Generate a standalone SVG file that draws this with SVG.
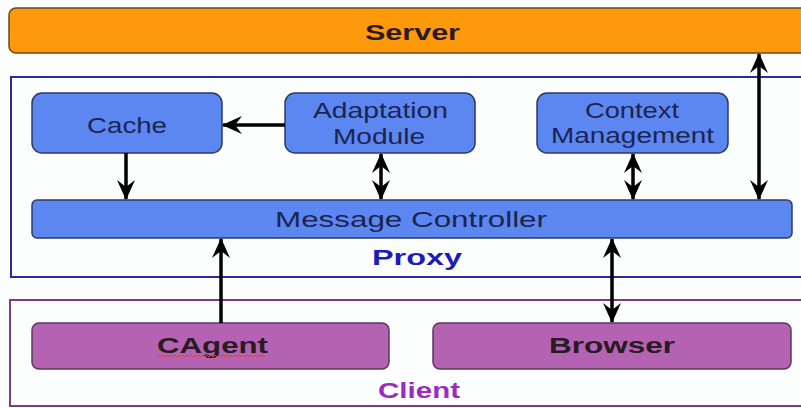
<svg xmlns="http://www.w3.org/2000/svg" width="801" height="408" viewBox="0 0 801 408">
  <defs>
    <marker id="head" viewBox="0 0 20 20" refX="19" refY="10" markerWidth="20" markerHeight="20" markerUnits="userSpaceOnUse" orient="auto-start-reverse">
      <path d="M0,1 L20,10 L0,19 L7,10 z" fill="#000"/>
    </marker>
    <style>
      text { font-family: "Liberation Sans", Arial, sans-serif; text-anchor: middle; }
      .server { fill: #fd990a; stroke: #6b4a1c; stroke-width: 1.5; }
      .frame-proxy { fill: none; stroke: #2a2aa0; stroke-width: 2; }
      .frame-client { fill: none; stroke: #7e3a82; stroke-width: 2; }
      .mod { fill: #5c86f0; stroke: #2c3a66; stroke-width: 1.5; }
      .cli { fill: #b462b2; stroke: #5a3a5c; stroke-width: 1.5; }
      .mt { font-size: 22px; fill: #1c2450; }
      .bt { font-size: 22px; font-weight: bold; fill: #2a1a22; }
      .lbl-proxy { font-size: 22px; font-weight: bold; fill: #1c1cb8; }
      .lbl-client { font-size: 22px; font-weight: bold; fill: #9a2cc2; }
      .link { stroke: #000; stroke-width: 3.5; fill: none; }
      .one { marker-end: url(#head); }
      .two { marker-start: url(#head); marker-end: url(#head); }
    </style>
  </defs>

  <rect width="801" height="408" fill="#fcfdfd"/>

  <!-- server tier -->
  <g id="server">
    <rect class="server" x="9" y="8" width="800" height="45" rx="7"/>
    <text class="bt" x="412.5" y="40" font-size="24" textLength="95" lengthAdjust="spacingAndGlyphs">Server</text>
  </g>

  <!-- proxy tier -->
  <g id="proxy">
    <rect class="frame-proxy" x="11" y="77" width="800" height="200"/>
    <text class="lbl-proxy" x="417" y="265" textLength="90" lengthAdjust="spacingAndGlyphs">Proxy</text>
  </g>

  <g id="cache">
    <rect class="mod" x="32" y="93" width="190" height="60" rx="10"/>
    <text class="mt" x="127" y="133" textLength="80" lengthAdjust="spacingAndGlyphs">Cache</text>
  </g>

  <g id="adaptation">
    <rect class="mod" x="285" y="93" width="190" height="60" rx="10"/>
    <text class="mt" x="380.5" y="118" textLength="135" lengthAdjust="spacingAndGlyphs">Adaptation</text>
    <text class="mt" x="379" y="144" textLength="92" lengthAdjust="spacingAndGlyphs">Module</text>
  </g>

  <g id="context">
    <rect class="mod" x="537" y="93" width="191" height="60" rx="10"/>
    <text class="mt" x="632" y="118" textLength="94" lengthAdjust="spacingAndGlyphs">Context</text>
    <text class="mt" x="632.5" y="143" textLength="163" lengthAdjust="spacingAndGlyphs">Management</text>
  </g>

  <g id="message-controller">
    <rect class="mod" x="32" y="200" width="760" height="38" rx="5"/>
    <text class="mt" x="411" y="227" font-size="24" textLength="272" lengthAdjust="spacingAndGlyphs">Message Controller</text>
  </g>

  <!-- client tier -->
  <g id="client">
    <rect class="frame-client" x="10" y="300" width="800" height="106"/>
    <text class="lbl-client" x="419" y="398" textLength="82" lengthAdjust="spacingAndGlyphs">Client</text>
  </g>

  <g id="cagent">
    <rect class="cli" x="32" y="323" width="357" height="46" rx="7"/>
    <text class="bt" x="212.5" y="353" textLength="111" lengthAdjust="spacingAndGlyphs">CAgent</text>
    <!-- spell-check squiggle under the word -->
    <path d="M157,357 l2,-2 l2,2 l2,-2 l2,2 l2,-2 l2,2 l2,-2 l2,2 l2,-2 l2,2 l2,-2 l2,2 l2,-2 l2,2 l2,-2 l2,2 l2,-2 l2,2 l2,-2 l2,2 l2,-2 l2,2 l2,-2 l2,2 l2,-2 l2,2 l2,-2 l2,2 l2,-2 l2,2 l2,-2 l2,2 l2,-2 l2,2 l2,-2 l2,2 l2,-2 l2,2 l2,-2 l2,2 l2,-2 l2,2 l2,-2 l2,2 l2,-2 l2,2 l2,-2 l2,2 l2,-2 l2,2 l2,-2 l2,2 l2,-2 l2,2" fill="none" stroke="#e0403c" stroke-width="1"/>
  </g>

  <g id="browser">
    <rect class="cli" x="433" y="323" width="358" height="46" rx="7"/>
    <text class="bt" x="612" y="353" textLength="126" lengthAdjust="spacingAndGlyphs">Browser</text>
  </g>

  <!-- connectors -->
  <g id="connectors">
    <line class="link one" x1="285" y1="125" x2="223" y2="125"/>
    <line class="link one" x1="126" y1="153" x2="126" y2="199"/>
    <line class="link two" x1="381" y1="154" x2="381" y2="199"/>
    <line class="link two" x1="633" y1="154" x2="633" y2="199"/>
    <line class="link two" x1="759" y1="54" x2="759" y2="199"/>
    <line class="link one" x1="221" y1="323" x2="221" y2="239"/>
    <line class="link two" x1="612" y1="239" x2="612" y2="322"/>
  </g>
</svg>
